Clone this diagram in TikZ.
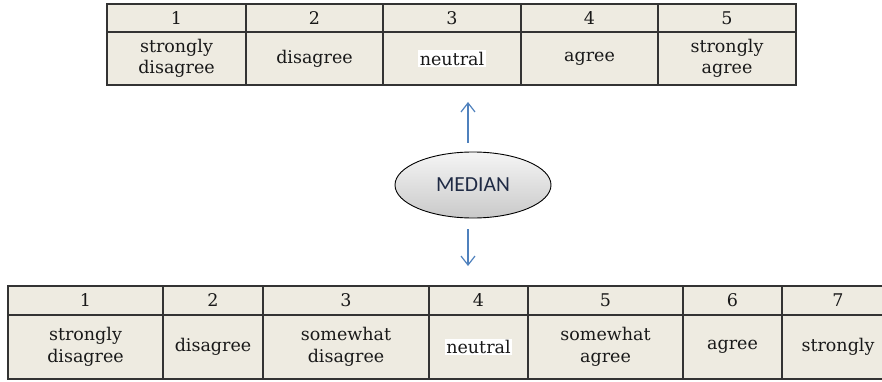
\documentclass[tikz,border=0pt]{standalone}
\usepackage{fontspec}
\setmainfont{DejaVu Serif}
\newfontfamily\medfont{Carlito}
\usetikzlibrary{arrows.meta,shapes.geometric}
\definecolor{cellbg}{HTML}{EEEBE1}
\definecolor{rule}{HTML}{333333}
\definecolor{arrowblue}{HTML}{4F81BD}
\definecolor{medtext}{HTML}{1F2A44}
\newcommand{\mkcell}[6]{%
  \node[cell, minimum width={(#3-#2)*1pt}, minimum height={(#5-#4)*1pt}] (#1) at ({(#2+#3)/2},{(#4+#5)/2}) {#6};}
\begin{document}
\begin{tikzpicture}[x=1pt,y=-1pt,
  cell/.style={draw=rule, line width=1.4pt, fill=cellbg, inner sep=0pt, align=center,
    font=\fontsize{17.5}{21.5}\selectfont, text=black!90},
  hilite/.style={fill=white, inner sep=1.5pt, font=\fontsize{17.5}{21.5}\selectfont, text=black!90},
  medstyle/.style={ellipse, draw=black, line width=0.9pt, top color=gray!8, bottom color=gray!42,
    minimum width=156pt, minimum height=66pt, inner sep=0pt, font=\medfont\fontsize{21.5}{24}\selectfont, text=medtext},
  link/.style={draw=arrowblue, line width=1.2pt, -{Straight Barb[length=9pt,width=14pt]}}
]
\useasboundingbox (0,0) rectangle (882,382);
\begin{scope}
\clip (0,0) rectangle (882,382);
% top table
\mkcell{ta1}{107}{246}{4}{32}{1}
\mkcell{ta2}{246}{383}{4}{32}{2}
\mkcell{ta3}{383}{521}{4}{32}{3}
\mkcell{ta4}{521}{658}{4}{32}{4}
\mkcell{ta5}{658}{796}{4}{32}{5}
\mkcell{tb1}{107}{246}{32}{85}{strongly\\disagree}
\mkcell{tb2}{246}{383}{32}{85}{disagree}
\mkcell{tb3}{383}{521}{32}{85}{}
\mkcell{tb4}{521}{658}{32}{85}{agree}
\mkcell{tb5}{658}{796}{32}{85}{strongly\\agree}
\node[hilite] (tn) at (tb3.center) {neutral};
% bottom table
\mkcell{ba1}{8}{163}{286}{315}{1}
\mkcell{ba2}{163}{263}{286}{315}{2}
\mkcell{ba3}{263}{429}{286}{315}{3}
\mkcell{ba4}{429}{528}{286}{315}{4}
\mkcell{ba5}{528}{683}{286}{315}{5}
\mkcell{ba6}{683}{782}{286}{315}{6}
\mkcell{ba7}{782}{894}{286}{315}{7}
\mkcell{bb1}{8}{163}{315}{379}{strongly\\disagree}
\mkcell{bb2}{163}{263}{315}{379}{disagree}
\mkcell{bb3}{263}{429}{315}{379}{somewhat\\disagree}
\mkcell{bb4}{429}{528}{315}{379}{}
\mkcell{bb5}{528}{683}{315}{379}{somewhat\\agree}
\mkcell{bb6}{683}{782}{315}{379}{agree}
\mkcell{bb7}{782}{894}{315}{379}{strongly}
\node[hilite] (bn) at (bb4.center) {neutral};
\end{scope}
% median
\node[medstyle] (med) at (473,185) {MEDIAN};
\coordinate (upS) at (468,143);
\coordinate (upE) at (468,102);
\coordinate (dnS) at (468,229);
\coordinate (dnE) at (468,266);
\draw[link] (upS) -- (upE);
\draw[link] (dnS) -- (dnE);
\end{tikzpicture}
\end{document}
